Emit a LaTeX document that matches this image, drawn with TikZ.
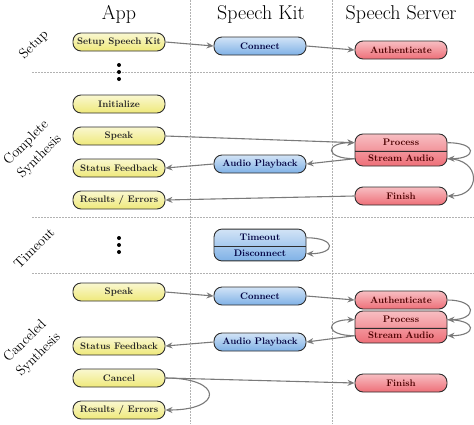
\documentclass[tikz,border=0pt]{standalone}
\usepackage{tikz}
\usetikzlibrary{arrows.meta}
\usetikzlibrary{shapes.multipart}
\usepackage{xcolor}

\definecolor{appyellow}{HTML}{EFE97A}
\definecolor{kitblue}{HTML}{7FB1E6}
\definecolor{serverred}{HTML}{EE6F78}
\definecolor{edgegray}{HTML}{2E2E2E}
\definecolor{arrowgray}{HTML}{7A7A7A}

\tikzset{
  pill/.style={draw=edgegray, line width=0.9pt, rounded corners=8pt,
    minimum width=92pt, minimum height=18pt, inner sep=1pt,
    font=\fontsize{9.5}{10}\selectfont\bfseries},
  appbox/.style={pill, top color=appyellow!35!white, bottom color=appyellow, text=black!85},
  kitbox/.style={pill, top color=kitblue!35!white, bottom color=kitblue, text=blue!25!black},
  serverbox/.style={pill, top color=serverred!45!white, bottom color=serverred, text=red!30!black},
  splitbox/.style={rectangle split, rectangle split parts=2, text width=88pt, align=center,
    inner ysep=3.5pt, text height=7.5pt, text depth=2pt},
  flow/.style={draw=arrowgray, line width=1.1pt, -{Stealth[length=7pt,width=6pt]}},
  header/.style={font=\fontsize{20}{22}\selectfont},
  rowlabel/.style={rotate=45, align=center, font=\fontsize{14}{19}\selectfont},
  grid/.style={gray!60, line width=0.5pt, dash pattern=on 1.5pt off 1.5pt}
}

\begin{document}
\begin{tikzpicture}[x=1pt,y=-1pt]
        \useasboundingbox (0,0) rectangle (474,424);
        % grid
        \draw[grid] (190,0) -- (190,424);
        \draw[grid] (332,0) -- (332,424);
        \foreach \y in {72,217,273}
            \draw[grid] (32,\y) -- (474,\y);
        % headers
        \node[header] (hApp) at (119,14) {App};
        \node[header] (hKit) at (261,14) {Speech Kit};
        \node[header] (hServer) at (401,14) {Speech Server};
        % row labels
        \node[rowlabel] (lSetup) at (34,45) {Setup};
        \node[rowlabel] (lComplete) at (33,150) {Complete\\Synthesis};
        \node[rowlabel] (lTimeout) at (34,248) {Timeout};
        \node[rowlabel] (lCanceled) at (32,348) {Canceled\\Synthesis};
        % setup
        \node[appbox] (setupKit) at (119,42) {Setup Speech Kit};
        \node[kitbox] (connect) at (260,46) {Connect};
        \node[serverbox] (auth) at (401,50) {Authenticate};
        \foreach \y in {65,72,79}
            \fill (119,\y) circle (2pt);
        \draw[flow] (setupKit.east) -- (connect.west);
        \draw[flow] (connect.east) -- (auth.west);
        % complete synthesis
        \node[appbox] (init) at (119,104) {Initialize};
        \node[appbox] (speak) at (119,136) {Speak};
        \node[appbox] (status) at (119,168) {Status Feedback};
        \node[appbox] (results) at (119,200) {Results / Errors};
        \node[kitbox] (playback) at (260,164) {Audio Playback};
        \node[serverbox, splitbox] (proc) at (401,150) {Process\nodepart{two}Stream Audio};
        \node[serverbox] (finish) at (401,196) {Finish};
        \draw[flow] (speak.east) -- (proc.text west);
        \draw[flow] (proc.two west) to[out=180,in=180,distance=30pt] (proc.text west);
        \draw[flow] (proc.two west) -- (playback.east);
        \draw[flow] (playback.west) -- (status.east);
        \draw[flow] (proc.text east) to[out=0,in=0,distance=30pt] (proc.two east);
        \draw[flow] (proc.two east) to[out=0,in=0,distance=34pt] (finish.east);
        \draw[flow] (finish.west) -- (results.east);
        % timeout
        \foreach \y in {238,245,252}
            \fill (119,\y) circle (2pt);
        \node[kitbox, splitbox] (timeout) at (260,245) {Timeout\nodepart{two}Disconnect};
        \draw[flow] (timeout.text east) to[out=0,in=0,distance=30pt] (timeout.two east);
        % canceled synthesis
        \node[appbox] (speakB) at (119,292) {Speak};
        \node[appbox] (statusB) at (119,346) {Status Feedback};
        \node[appbox] (cancel) at (119,378) {Cancel};
        \node[appbox] (resultsB) at (119,410) {Results / Errors};
        \node[kitbox] (connectB) at (260,296) {Connect};
        \node[kitbox] (playbackB) at (260,342) {Audio Playback};
        \node[serverbox] (authB) at (401,300) {Authenticate};
        \node[serverbox, splitbox] (procB) at (401,327) {Process\nodepart{two}Stream Audio};
        \node[serverbox] (finishB) at (401,383) {Finish};
        \draw[flow] (speakB.east) -- (connectB.west);
        \draw[flow] (connectB.east) -- (authB.west);
        \draw[flow] (authB.east) to[out=0,in=0,distance=30pt] (procB.text east);
        \draw[flow] (procB.text east) to[out=0,in=0,distance=30pt] (procB.two east);
        \draw[flow] (procB.two west) to[out=180,in=180,distance=30pt] (procB.text west);
        \draw[flow] (procB.two west) -- (playbackB.east);
        \draw[flow] (playbackB.west) -- (statusB.east);
        \draw[flow] (cancel.east) -- (finishB.west);
        \draw[flow] (cancel.east) to[out=0,in=0,distance=58pt] (resultsB.east);
    \end{tikzpicture}
\end{document}
